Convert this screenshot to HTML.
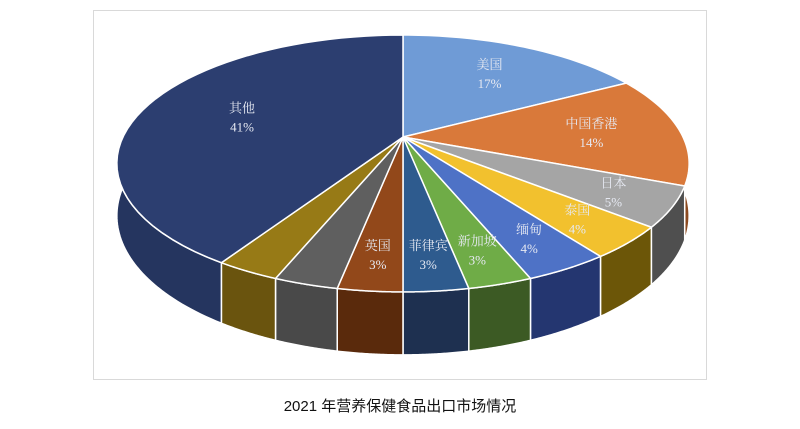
<!DOCTYPE html>
<html><head><meta charset="utf-8"><style>
html,body{margin:0;padding:0;background:#fff;width:800px;height:429px;overflow:hidden}
svg text{font-family:"Liberation Serif","Noto Serif CJK SC",serif}
</style></head><body>
<svg id="chart" width="800" height="429" viewBox="0 0 800 429" xmlns="http://www.w3.org/2000/svg">
<rect x="93.5" y="10.5" width="613" height="369" fill="#fff" stroke="#d9d9d9" stroke-width="1"/>
<g id="sides"></g><g id="tops"></g><g id="labels"></g>
<text x="400" y="411" text-anchor="middle" font-size="15" fill="#111" style='font-family:"Liberation Sans","Noto Sans CJK SC",sans-serif'>2021 年营养保健食品出口市场情况</text>
</svg>
<script>
const categories=["美国","中国香港","日本","泰国","缅甸","新加坡","菲律宾","英国","其他A","其他B","其他"];
const values=[17,14,5,4,4,3,3,3,3,3,41];
const showLabel=[true,true,true,true,true,true,true,true,false,false,true];
const topColors=["#6f9bd6","#d9793a","#a5a5a5","#f2c12e","#4e72c6","#6fac47","#2e5b8e","#92481a","#5f5f5f","#977a16","#2c3e70"];
const sideColors=["#4a6a96","#8c4a20","#4f4f4f","#6c5608","#243670","#3c5a24","#1e3050","#5a2a0c","#494949","#6a540e","#25355f"];
const cx=403,cy=137,A=280,B=123,K=0.206,D=50;
const NS="http://www.w3.org/2000/svg";
const total=values.reduce((a,b)=>a+b,0);
function P(t,r,dy){const X=r*Math.sin(t),Z=r*Math.cos(t),d=1+K*Z;return [cx+A*X/d, cy-B*Z/d+(dy?D/d:0)];}
function arc(a,b,dy,rev){let s="";const n=48;for(let j=0;j<=n;j++){const i=rev?n-j:j;const t=a+(b-a)*i/n;const p=P(t,1,dy);s+="L"+p[0].toFixed(2)+","+p[1].toFixed(2);}return s;}
const sides=document.getElementById("sides"),tops=document.getElementById("tops"),labels=document.getElementById("labels");
let acc=0;
values.forEach((v,i)=>{
  const a=acc/total*2*Math.PI;acc+=v;const b=acc/total*2*Math.PI;
  const fa=Math.max(a,Math.PI/2),fb=Math.min(b,3*Math.PI/2);
  if(fb>fa){
    const p=document.createElementNS(NS,"path");
    p.setAttribute("d","M"+arc(fa,fb,0,false).slice(1)+arc(fa,fb,1,true)+"Z");
    p.setAttribute("fill",sideColors[i]);p.setAttribute("stroke","#fff");p.setAttribute("stroke-width","1.5");
    
    
    sides.appendChild(p);
  }
  const t=document.createElementNS(NS,"path");
  t.setAttribute("d","M"+cx+","+cy+arc(a,b,0,false)+"Z");
  t.setAttribute("fill",topColors[i]);t.setAttribute("stroke","#fff");t.setAttribute("stroke-width","1.5");t.setAttribute("stroke-linejoin","round");
  
  
  tops.appendChild(t);
  if(showLabel[i]){
    const m=(a+b)/2;const r=(i==10)?0.62:(v<=5?0.8:0.68);
    const lp=P(m,r,0);const lx=lp[0],ly=lp[1]-4;
    const g=document.createElementNS(NS,"text");
    g.setAttribute("x",lx);g.setAttribute("y",ly);g.setAttribute("text-anchor","middle");
    g.setAttribute("font-size","13");g.setAttribute("fill","#e6e9f2");
    
    
    const s1=document.createElementNS(NS,"tspan");s1.setAttribute("x",lx);s1.textContent=categories[i];
    const s2=document.createElementNS(NS,"tspan");s2.setAttribute("x",lx);s2.setAttribute("dy","19");s2.textContent=v+"%";
    g.appendChild(s1);g.appendChild(s2);labels.appendChild(g);
  }
});
</script>
</body></html>
